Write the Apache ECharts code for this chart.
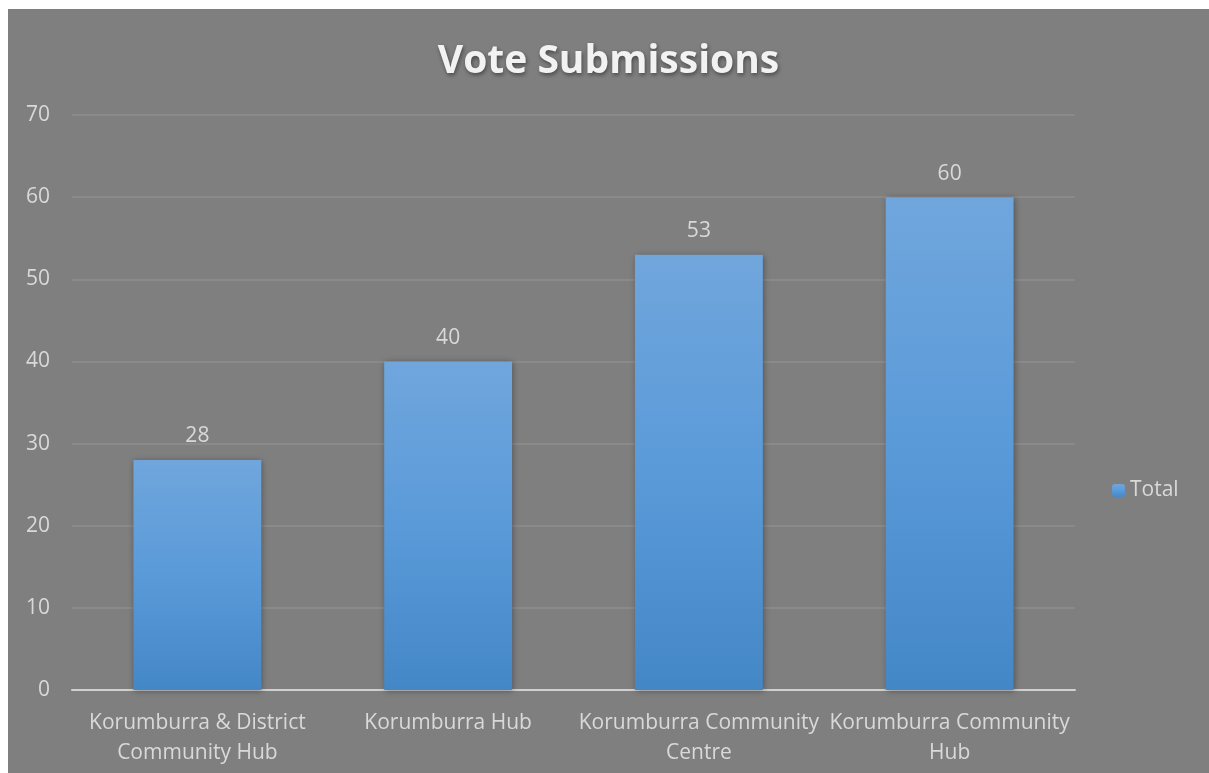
<!DOCTYPE html>
<html><head><meta charset="utf-8">
<script src="https://cdn.jsdelivr.net/npm/echarts@6/dist/echarts.min.js"></script>
<style>
html,body{margin:0;padding:0;background:#fff;}
#c{position:absolute;left:8px;top:9px;width:1201px;height:764px;background:#7f7f7f;}
</style></head><body>
<div id="c"></div>
<script>
const categories = ['Korumburra & District\nCommunity Hub', 'Korumburra Hub', 'Korumburra Community\nCentre', 'Korumburra Community\nHub'];
const totals = [28, 40, 53, 60];
const seriesName = 'Total';
const chartTitle = 'Vote Submissions';

const chart = echarts.init(document.getElementById('c'));
const font = '"Open Sans", Lato, sans-serif';
chart.setOption({
  backgroundColor: '#7f7f7f',
  animation: false,
  title: {
    text: chartTitle, left: 'center', top: 28,
    textStyle: {
      fontFamily: font, fontSize: 39, fontWeight: 'bold', color: '#f2f2f2',
      textShadowColor: 'rgba(0,0,0,0.45)', textShadowBlur: 4, textShadowOffsetX: 1, textShadowOffsetY: 2
    }
  },
  legend: {
    data: [seriesName], orient: 'vertical', left: 1099, top: 466,
    itemWidth: 13, itemHeight: 13, itemGap: 8,
    textStyle: { fontFamily: font, fontSize: 21, color: '#d9d9d9' }
  },
  grid: { left: 64, right: 134, top: 106, bottom: 83, containLabel: false },
  xAxis: {
    type: 'category', data: categories,
    axisLine: { lineStyle: { color: '#d0d0d0', width: 2 } },
    axisTick: { show: false },
    axisLabel: { fontFamily: font, fontSize: 21, color: '#d9d9d9', lineHeight: 30, margin: 18, interval: 0 }
  },
  yAxis: {
    type: 'value', min: 0, max: 70, interval: 10,
    axisLine: { show: false }, axisTick: { show: false },
    axisLabel: { fontFamily: font, fontSize: 21, color: '#d9d9d9', margin: 22 },
    splitLine: { lineStyle: { color: '#8e8e8e', width: 1.5 } }
  },
  series: [{
    name: seriesName, type: 'bar', data: totals, barWidth: '51%',
    itemStyle: {
      color: new echarts.graphic.LinearGradient(0, 0, 0, 1, [
        { offset: 0, color: '#70a6dc' },
        { offset: 0.5, color: '#5a9ad9' },
        { offset: 1, color: '#4487c7' }
      ]),
      shadowColor: 'rgba(0,0,0,0.35)', shadowBlur: 6, shadowOffsetX: 1, shadowOffsetY: 1
    },
    label: { show: true, position: 'top', distance: 13, fontFamily: font, fontSize: 21, color: '#d9d9d9' }
  }]
});
</script>
</body></html>
